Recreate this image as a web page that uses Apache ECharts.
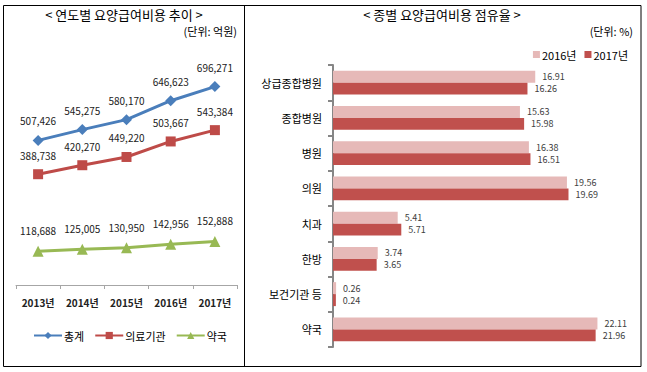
<!DOCTYPE html>
<html><head><meta charset="utf-8">
<script src="https://cdn.jsdelivr.net/npm/echarts@6/dist/echarts.min.js"></script>
<style>html,body{margin:0;padding:0;background:#fff}#c{width:647px;height:372px}</style>
</head><body><div id="c"></div>
<script>
const years = ['2013년','2014년','2015년','2016년','2017년'];
const totalCost = [507426, 545275, 580170, 646623, 696271];
const medicalCost = [388738, 420270, 449220, 503667, 543384];
const pharmacyCost = [118688, 125005, 130950, 142956, 152888];

const types = ['상급종합병원','종합병원','병원','의원','치과','한방','보건기관 등','약국'];
const share2016 = [16.91, 15.63, 16.38, 19.56, 5.41, 3.74, 0.26, 22.11];
const share2017 = [16.26, 15.98, 16.51, 19.69, 5.71, 3.65, 0.24, 21.96];

const FONT = "'Noto Sans CJK KR', sans-serif";
const chart = echarts.init(document.getElementById('c'), null, {renderer: 'svg'});

function fmt(v){ return v.toLocaleString('en-US'); }

const lineLabel = {show: true, position: 'top', distance: 9, fontSize: 10, color: '#222', fontFamily: FONT, formatter: p => fmt(p.value)};
const barLabel = {show: true, position: 'right', distance: 7, fontSize: 9, lineHeight: 10, color: '#404040', fontFamily: FONT, formatter: p => p.value.toFixed(2)};

chart.setOption({
  animation: false,
  textStyle: {fontFamily: FONT},
  graphic: [
    {type: 'rect', shape: {x: 3.5, y: 5.5, width: 637.5, height: 361}, style: {fill: 'none', stroke: '#000', lineWidth: 1}},
    {type: 'line', shape: {x1: 244.5, y1: 5.5, x2: 244.5, y2: 366.5}, style: {stroke: '#000', lineWidth: 1}},
    {type: 'text', x: 124, y: 14, style: {text: '< 연도별 요양급여비용 추이 >', font: '13px ' + FONT, fill: '#000', textAlign: 'center', textVerticalAlign: 'middle'}},
    {type: 'text', x: 237, y: 31, style: {text: '(단위: 억원)', font: '11px ' + FONT, fill: '#000', textAlign: 'right', textVerticalAlign: 'middle'}},
    {type: 'text', x: 442, y: 14, style: {text: '< 종별 요양급여비용 점유율 >', font: '13px ' + FONT, fill: '#000', textAlign: 'center', textVerticalAlign: 'middle'}},
    {type: 'text', x: 633, y: 31, style: {text: '(단위: %)', font: '11px ' + FONT, fill: '#000', textAlign: 'right', textVerticalAlign: 'middle'}}
  ],
  legend: [
    {data: ['총계','의료기관','약국'], left: 28, top: 325, itemWidth: 28, itemHeight: 9, itemGap: 10,
     textStyle: {fontSize: 11, color: '#000', fontFamily: FONT, padding: [0,0,0,-3]}},
    {data: ['2016년','2017년'], right: 14, top: 44, icon: 'rect', itemWidth: 7, itemHeight: 7, itemGap: 8,
     textStyle: {fontSize: 11, color: '#000', fontFamily: FONT, padding: [0,0,0,-3]}}
  ],
  grid: [
    {left: 16, top: 57, width: 221, height: 228},
    {left: 333, top: 65, width: 299, height: 282}
  ],
  xAxis: [
    {gridIndex: 0, type: 'category', data: years, boundaryGap: true,
     axisLine: {lineStyle: {color: '#A6A6A6', width: 1}},
     axisTick: {show: true, length: 4, lineStyle: {color: '#A6A6A6'}},
     axisLabel: {fontSize: 10, fontWeight: 'bold', color: '#222', margin: 12, fontFamily: FONT}},
    {gridIndex: 1, type: 'value', min: 0, max: 25, show: false, splitLine: {show: false}}
  ],
  yAxis: [
    {gridIndex: 0, type: 'value', min: 0, max: 800000, show: false, splitLine: {show: false}},
    {gridIndex: 1, type: 'category', data: types, inverse: true,
     axisLine: {lineStyle: {color: '#868686', width: 2}},
     axisTick: {show: true, length: 5, lineStyle: {color: '#868686', width: 2}},
     axisLabel: {fontSize: 11, color: '#000', margin: 11, fontFamily: FONT}}
  ],
  series: [
    {name: '총계', type: 'line', xAxisIndex: 0, yAxisIndex: 0, data: totalCost,
     symbol: 'diamond', symbolSize: 11, lineStyle: {color: '#4A7EBB', width: 3}, itemStyle: {color: '#4A7EBB'}, label: lineLabel},
    {name: '의료기관', type: 'line', xAxisIndex: 0, yAxisIndex: 0, data: medicalCost,
     symbol: 'rect', symbolSize: 10, lineStyle: {color: '#BE4B48', width: 3}, itemStyle: {color: '#BE4B48'}, label: lineLabel},
    {name: '약국', type: 'line', xAxisIndex: 0, yAxisIndex: 0, data: pharmacyCost,
     symbol: 'triangle', symbolSize: 11, lineStyle: {color: '#98B954', width: 3}, itemStyle: {color: '#98B954'}, label: Object.assign({}, lineLabel, {distance: 10})},
    {name: '2016년', type: 'bar', xAxisIndex: 1, yAxisIndex: 1, data: share2016,
     barGap: '0%', barCategoryGap: '32%', itemStyle: {color: '#E6B9B8'}, label: barLabel},
    {name: '2017년', type: 'bar', xAxisIndex: 1, yAxisIndex: 1, data: share2017,
     barGap: '0%', barCategoryGap: '32%', itemStyle: {color: '#C0504D'}, label: barLabel}
  ]
});
</script></body></html>
